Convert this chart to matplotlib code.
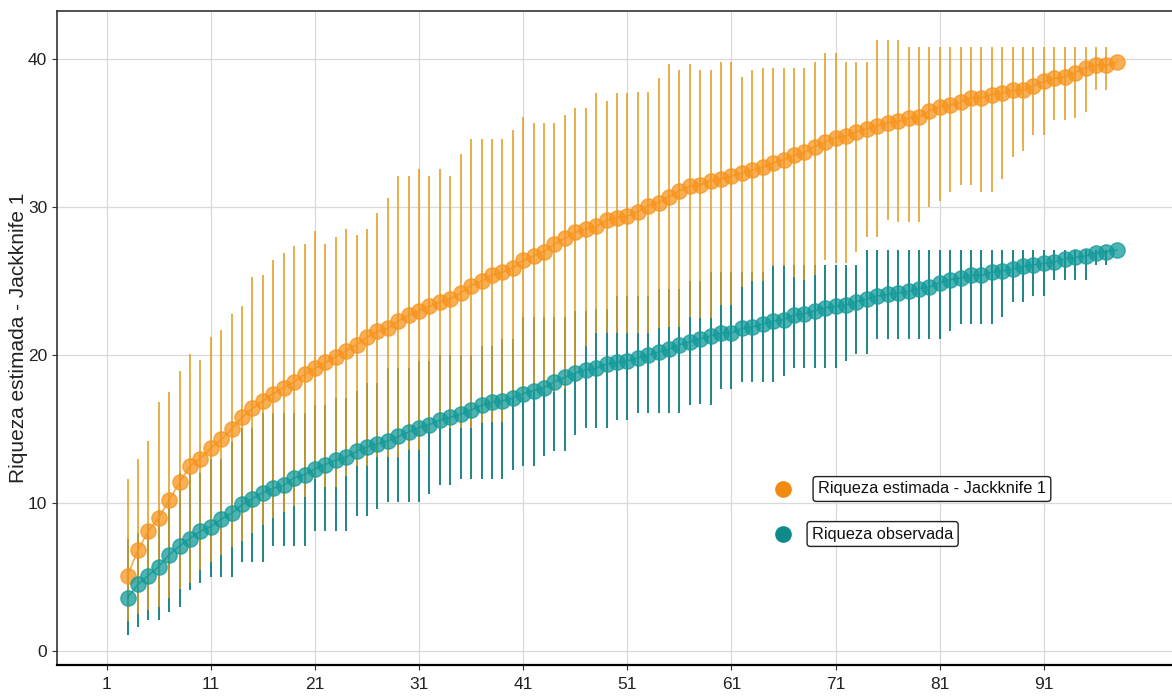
import matplotlib.pyplot as plt
from matplotlib.ticker import FixedLocator

plt.rcParams['font.family'] = ['Liberation Sans', 'DejaVu Sans']

# muestras (eje x)
muestras = list(range(3, 99))

# Riqueza estimada - Jackknife 1
jack1 = [5.1, 6.8, 8.1, 9.0, 10.2, 11.4, 12.5, 13.0, 13.7, 14.3, 15.0, 15.8, 16.4, 16.9, 17.4, 17.8, 18.2, 18.7,
         19.1, 19.5, 19.9, 20.3, 20.7, 21.2, 21.6, 21.8, 22.3, 22.7, 23.0, 23.3, 23.6, 23.8, 24.2, 24.7, 25.0, 25.4, 25.6,
         25.9, 26.4, 26.7, 27.0, 27.5, 27.9, 28.3, 28.5, 28.7, 29.1, 29.3, 29.4, 29.7, 30.1, 30.3, 30.7, 31.1, 31.4,
         31.5, 31.8, 31.9, 32.1, 32.3, 32.5, 32.7, 33.0, 33.2, 33.5, 33.7, 34.1, 34.4, 34.7, 34.8, 35.1, 35.3, 35.5, 35.7,
         35.8, 36.0, 36.1, 36.5, 36.8, 36.9, 37.1, 37.4, 37.4, 37.6, 37.7, 37.9, 37.9, 38.2, 38.5, 38.7, 38.8, 39.1, 39.4,
         39.6, 39.6, 39.8]
jack1_sup = [11.6, 13.0, 14.2, 16.8, 17.5, 18.9, 20.1, 19.7, 21.2, 21.7, 22.8, 23.3, 25.3, 25.4, 26.4, 26.9, 27.4, 27.5,
             28.4, 27.5, 28.0, 28.5, 28.1, 28.5, 29.6, 30.6, 32.1, 32.1, 32.6, 32.1, 32.6, 32.1, 33.6, 34.6, 34.6, 34.6, 34.6,
             35.2, 36.1, 35.7, 35.7, 35.7, 36.2, 36.7, 36.7, 37.7, 37.2, 37.7, 37.7, 37.8, 37.8, 38.7, 39.7, 39.3, 39.7,
             39.3, 39.3, 39.8, 39.8, 38.8, 39.3, 39.4, 39.4, 39.4, 39.4, 39.4, 39.8, 40.4, 40.4, 39.8, 39.8, 39.8, 41.3, 41.3,
             41.3, 40.8, 40.8, 40.8, 40.8, 40.8, 40.8, 40.8, 40.8, 40.8, 40.8, 40.8, 40.8, 40.8, 40.8, 40.8, 40.8, 40.8,
             40.8, 40.8, 40.8, 39.8]
jack1_inf = [2.0, 2.5, 2.8, 3.0, 3.6, 4.2, 4.6, 5.5, 6.0, 6.5, 7.0, 7.4, 8.0, 8.5, 9.0, 9.4, 9.8, 10.4,
             11.6, 11.1, 11.1, 11.8, 12.5, 12.5, 13.1, 13.1, 13.1, 13.6, 13.6, 14.8, 15.1, 15.1, 15.1, 15.1, 15.4, 15.5, 15.5,
             17.0, 17.1, 17.5, 17.5, 17.5, 17.7, 18.8, 20.6, 21.5, 21.5, 21.5, 21.5, 21.5, 21.5, 21.8, 21.9, 21.9, 22.6,
             22.5, 22.5, 23.4, 23.4, 24.6, 25.0, 25.0, 26.0, 26.0, 25.3, 25.1, 25.4, 26.4, 26.2, 26.2, 27.0, 28.0, 28.0, 29.1,
             29.0, 29.0, 29.0, 30.0, 30.4, 31.0, 31.5, 31.5, 31.0, 31.0, 31.9, 33.4, 33.8, 34.9, 34.9, 35.9, 35.9, 36.0, 36.4,
             37.9, 37.9, 39.8]

# Riqueza observada
obs = [3.6, 4.5, 5.1, 5.7, 6.5, 7.1, 7.6, 8.1, 8.4, 8.9, 9.3, 9.9, 10.3, 10.7, 11.0, 11.2, 11.7, 11.9,
       12.3, 12.6, 12.9, 13.1, 13.5, 13.8, 14.0, 14.2, 14.5, 14.8, 15.1, 15.3, 15.6, 15.8, 16.0, 16.3, 16.6, 16.8, 16.9,
       17.1, 17.4, 17.6, 17.8, 18.2, 18.5, 18.8, 19.0, 19.1, 19.4, 19.5, 19.6, 19.8, 20.0, 20.2, 20.4, 20.7, 20.9,
       21.1, 21.3, 21.5, 21.5, 21.8, 21.9, 22.1, 22.3, 22.4, 22.7, 22.8, 23.0, 23.2, 23.3, 23.4, 23.6, 23.8, 24.0, 24.1,
       24.2, 24.3, 24.5, 24.6, 24.9, 25.1, 25.2, 25.4, 25.4, 25.6, 25.7, 25.8, 26.0, 26.1, 26.2, 26.3, 26.5, 26.6, 26.7,
       26.9, 27.0, 27.1]
obs_sup = [7.6, 8.0, 8.5, 9.5, 10.2, 12.0, 12.0, 12.0, 13.0, 13.0, 14.1, 15.1, 15.1, 16.1, 16.1, 16.1, 16.1, 16.1,
           16.6, 16.6, 17.1, 17.1, 17.6, 18.1, 18.1, 19.1, 19.1, 19.1, 19.6, 19.6, 20.0, 20.0, 20.0, 20.0, 20.6, 20.6, 21.1,
           21.1, 22.6, 22.6, 22.6, 22.6, 22.6, 23.0, 23.0, 23.1, 23.1, 24.0, 24.0, 24.0, 24.0, 24.5, 24.5, 24.5, 25.0,
           25.0, 25.6, 25.6, 25.6, 25.6, 25.6, 25.6, 26.1, 26.1, 26.1, 26.1, 26.1, 26.1, 26.1, 26.1, 26.1, 27.1, 27.1, 27.1,
           27.1, 27.1, 27.1, 27.1, 27.1, 27.1, 27.1, 27.1, 27.1, 27.1, 27.1, 27.1, 27.1, 27.1, 27.1, 27.1, 27.1, 27.1, 27.1,
           27.1, 27.1, 27.1]
obs_inf = [1.1, 1.6, 2.1, 2.1, 2.6, 3.0, 4.1, 4.6, 5.0, 5.0, 5.0, 6.0, 6.0, 6.0, 7.1, 7.1, 7.1, 7.1,
           8.1, 8.1, 8.1, 8.1, 9.1, 9.1, 9.6, 10.1, 10.1, 10.1, 10.1, 10.6, 11.2, 11.2, 11.6, 11.6, 11.6, 11.6, 11.6,
           12.2, 12.5, 12.5, 13.2, 13.5, 13.5, 14.6, 15.1, 15.1, 15.1, 15.6, 15.6, 16.1, 16.1, 16.1, 16.1, 16.1, 16.6,
           16.7, 16.6, 17.7, 17.7, 18.2, 18.2, 18.2, 18.2, 18.6, 19.1, 19.1, 19.1, 19.1, 19.1, 19.6, 20.1, 20.1, 21.1, 21.1,
           21.1, 21.1, 21.1, 21.1, 21.1, 21.6, 22.1, 22.1, 22.1, 22.1, 22.6, 23.6, 23.6, 24.0, 24.0, 25.1, 25.1, 25.1, 25.1,
           26.1, 26.1, 27.1]

etiquetas_x = [1, 11, 21, 31, 41, 51, 61, 71, 81, 91]
col_jack = '#F7941D'
col_obs = '#139A9A'

fig = plt.figure(figsize=(11.72, 6.96), dpi=100)
ax = fig.add_axes([57 / 1172, 1 - 665 / 696, 1 - 57 / 1172, (665 - 11) / 696])

# barras de error
ax.vlines(muestras, obs_inf, obs_sup, color='#1E8585', lw=1.4, zorder=2)
ax.vlines(muestras, jack1_inf, jack1_sup, color='#E39A1E', lw=1.4, alpha=0.8, zorder=3)

# lineas y puntos
ax.plot(muestras, jack1, color=col_jack, lw=1.2, alpha=0.8, zorder=4)
ax.plot(muestras, jack1, 'o', color=col_jack, ms=11, alpha=0.75, mec=col_jack, zorder=4)
ax.plot(muestras, obs, color=col_obs, lw=1.2, alpha=0.8, zorder=5)
ax.plot(muestras, obs, 'o', color=col_obs, ms=11, alpha=0.75, mec=col_obs, zorder=5)

ax.set_xlim(-3.77, 103.3)
ax.set_ylim(-0.95, 43.26)
ax.xaxis.set_major_locator(FixedLocator(etiquetas_x))
ax.set_yticks([0, 10, 20, 30, 40])
ax.grid(True, color='#D9D9D9', lw=0.9)
ax.set_axisbelow(True)
ax.tick_params(labelsize=12.5, length=3.5, color='#333333', labelcolor='#222222')
ax.tick_params(axis='x', pad=5)

for s in ['top', 'left']:
    ax.spines[s].set_color('#333333')
    ax.spines[s].set_linewidth(1.2)
ax.spines['bottom'].set_color('black')
ax.spines['bottom'].set_linewidth(1.6)
ax.spines['right'].set_visible(False)

ax.set_ylabel('Riqueza estimada - Jackknife 1', fontsize=15, color='#222222')
ax.yaxis.set_label_coords(-0.026, 0.5)

# leyenda
ley = [('Riqueza estimada - Jackknife 1', '#F28A12', 818),
       ('Riqueza observada', '#0F8A8A', 812)]
for i, (txt, c, xt) in enumerate(ley):
    yy = 1 - (489 + 45 * i) / 696
    fig.lines.append(plt.Line2D([783 / 1172], [yy], marker='o', ms=11, color=c,
                                transform=fig.transFigure, figure=fig))
    fig.text(xt / 1172, yy, txt, fontsize=11.8, va='center', ha='left', color='#111111',
             bbox=dict(boxstyle='round,pad=0.3,rounding_size=0.2', fc='white', ec='#222222', lw=1))

fig.savefig('out.png', dpi=100)
